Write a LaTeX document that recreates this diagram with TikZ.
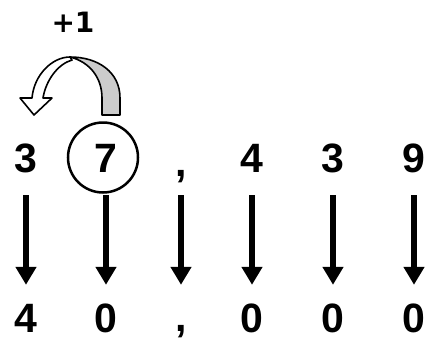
\documentclass[tikz,border=0pt]{standalone}
\usepackage{fontspec}
\setmainfont{Liberation Sans}
\newfontfamily\plusfont{DejaVu Sans}
\usetikzlibrary{arrows.meta}
\tikzset{
  cifra/.style={font=\fontsize{41}{41}\selectfont\bfseries, inner sep=0pt, text height=29pt, text depth=0pt, anchor=base},
  flecha/.style={line width=6.5pt, -{Triangle[width=20pt,length=18pt]}},
  cinta/.style={line width=1.6pt, line join=round}
}
\begin{document}
\begin{tikzpicture}[x=1pt, y=-1pt]
    \useasboundingbox (0,0) rectangle (425,341);

    % Numero original
    \node[cifra] (t1) at (26,172) {3};
    \node[cifra] (t2) at (106,172) {7};
    \node[cifra] (t3) at (181,172) {\raisebox{-4pt}{,}};
    \node[cifra] (t4) at (252,172) {4};
    \node[cifra] (t5) at (333,172) {3};
    \node[cifra] (t6) at (414,172) {9};

    % Numero redondeado
    \node[cifra] (b1) at (26,332) {4};
    \node[cifra] (b2) at (106,332) {0};
    \node[cifra] (b3) at (181,332) {\raisebox{1pt}{,}};
    \node[cifra] (b4) at (252,332) {0};
    \node[cifra] (b5) at (333,332) {0};
    \node[cifra] (b6) at (414,332) {0};

    % Flechas
    \foreach \i in {1,...,6}
        \draw[flecha] ([yshift=-23pt]t\i.south) -- ([yshift=18pt]b\i.north);

    % Circulo
    \draw[line width=2.5pt] ([xshift=-3pt]t2.center) circle[radius=35pt];

    % Flecha curva
    \draw[cinta, fill=gray!40] (120,115) -- (120,98) .. controls (120,72) and (98,57) .. (70,57)
        .. controls (90,62) and (102,78) .. (102,98) -- (102,115) -- cycle;
    \draw[cinta, fill=white] (70,57) .. controls (52,57) and (34,75) .. (32,98) -- (20,98) -- (34,115)
        -- (52,98) -- (43,98) .. controls (46,80) and (58,64) .. (72,60) -- cycle;

    % Etiqueta
    \node[font=\plusfont\fontsize{28}{28}\selectfont\bfseries, inner sep=0pt] (mas) at (73,22.5) {+1};
\end{tikzpicture}
\end{document}
